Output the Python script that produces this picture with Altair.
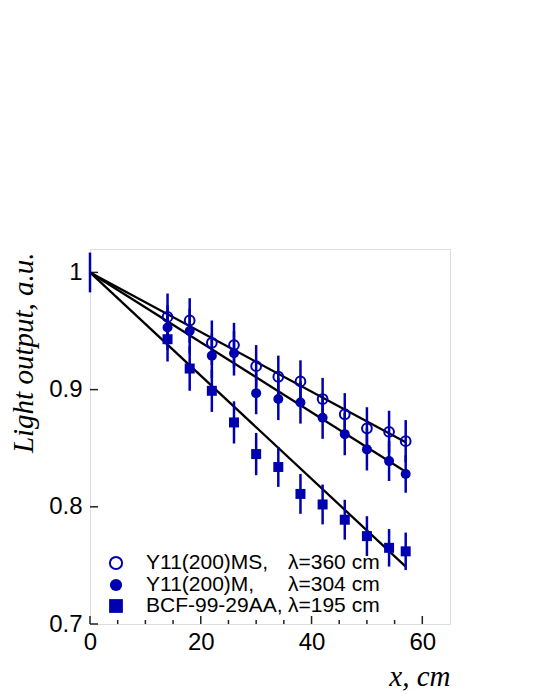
import altair as alt
import pandas as pd

# ---- data ----
x_pos = [14, 18, 22, 26, 30, 34, 38, 42, 46, 50, 54, 57]
ms_vals = [0.962, 0.959, 0.940, 0.938, 0.920, 0.911, 0.907, 0.892, 0.879, 0.867, 0.864, 0.856]
m_vals = [0.953, 0.950, 0.929, 0.931, 0.897, 0.892, 0.889, 0.876, 0.862, 0.849, 0.839, 0.828]
bcf_vals = [0.943, 0.918, 0.899, 0.872, 0.845, 0.834, 0.811, 0.802, 0.789, 0.775, 0.765, 0.762]
ms_err = [0.020, 0.019, 0.019, 0.019, 0.018, 0.018, 0.018, 0.018, 0.018, 0.018, 0.018, 0.018]
m_err = [0.019, 0.019, 0.019, 0.019, 0.018, 0.018, 0.018, 0.018, 0.018, 0.018, 0.017, 0.016]
bcf_err = [0.019, 0.019, 0.018, 0.018, 0.018, 0.017, 0.017, 0.017, 0.017, 0.017, 0.016, 0.016]
zero_x = [0]
zero_v = [1.0]
zero_err = [0.017]

series_names = ["Y11(200)MS,", "Y11(200)M,", "BCF-99-29AA,"]
lambda_labels = ["λ=360 cm", "λ=304 cm", "λ=195 cm"]
fit_x = [0, 57]
fit_ms = [1.0, 0.855]
fit_m = [1.0, 0.830]
fit_bcf = [1.0, 0.749]

x_ticks_major = [0, 20, 40, 60]
x_ticks_minor = [5, 10, 15, 25, 30, 35, 45, 50, 55]
y_ticks = [0.7, 0.8, 0.9, 1.0]

BLUE = "#0000b0"
W, H = 360, 375

rows = []
for name, vals, errs in zip(series_names, [ms_vals, m_vals, bcf_vals], [ms_err, m_err, bcf_err]):
    for xi, v, e in zip(x_pos, vals, errs):
        rows.append({"series": name, "x": xi, "v": v, "lo": v - e, "hi": v + e})
for xi, v, e in zip(zero_x, zero_v, zero_err):
    rows.append({"series": "zero", "x": xi, "v": v, "lo": v - e, "hi": v + e})
df = pd.DataFrame(rows)

fit_rows = []
for name, vals in zip(series_names, [fit_ms, fit_m, fit_bcf]):
    for xi, v in zip(fit_x, vals):
        fit_rows.append({"series": name, "x": xi, "v": v})
fit_df = pd.DataFrame(fit_rows)

xs = alt.Scale(domain=[0, 65], nice=False, zero=False)
ys = alt.Scale(domain=[0.7, 1.02], nice=False, zero=False)

xaxis = alt.Axis(values=x_ticks_major, format="d", ticks=False, domain=False, grid=False,
                 labelFontSize=24, labelFont="Liberation Sans", labelColor="black",
                 labelPadding=6, labelFlush=False, labelOverlap=False,
                 title="x,  cm", titleFont="Liberation Serif", titleFontStyle="italic",
                 titleFontSize=29, titleFontWeight="normal", titleColor="black",
                 titleAlign="right", titleBaseline="alphabetic", titleX=W, titleY=61)
yaxis = alt.Axis(values=y_ticks, labelExpr="datum.value == 1 ? '1' : format(datum.value, '.1f')",
                 ticks=False, domain=False, grid=False,
                 labelFontSize=24, labelFont="Liberation Sans", labelColor="black",
                 labelPadding=8, labelFlush=False, labelOverlap=False,
                 title="Light output, a.u.", titleFont="Liberation Serif", titleFontStyle="italic",
                 titleFontSize=29, titleFontWeight="normal", titleColor="black",
                 titleAngle=270, titleAlign="right", titleBaseline="alphabetic",
                 titleX=-58, titleY=3)

X = alt.X("x:Q", scale=xs, axis=xaxis)
Y = alt.Y("v:Q", scale=ys, axis=yaxis)

errbars = alt.Chart(df).mark_rule(color=BLUE, strokeWidth=2.5).encode(
    x=X, y=alt.Y("lo:Q", scale=ys, axis=yaxis), y2="hi:Q")

fits = alt.Chart(fit_df).mark_line(color="black", strokeWidth=2.3).encode(
    x=X, y=Y, detail="series:N")

pts_ms = alt.Chart(df).transform_filter(alt.datum.series == series_names[0]).mark_point(
    shape="circle", filled=False, color=BLUE, strokeWidth=2, size=95, opacity=1).encode(x=X, y=Y)
pts_m = alt.Chart(df).transform_filter(alt.datum.series == series_names[1]).mark_point(
    shape="circle", filled=True, color=BLUE, size=100, opacity=1).encode(x=X, y=Y)
pts_bcf = alt.Chart(df).transform_filter(alt.datum.series == series_names[2]).mark_point(
    shape="square", filled=True, color=BLUE, size=100, opacity=1).encode(x=X, y=Y)

ytick_df = pd.DataFrame({"v": y_ticks})
xmaj_df = pd.DataFrame({"x": x_ticks_major})
xmin_df = pd.DataFrame({"x": x_ticks_minor})

yt = alt.Chart(ytick_df).mark_rule(color="#222", strokeWidth=1.5).encode(
    y=Y, x=alt.value(0), x2=alt.value(8))
xtM = alt.Chart(xmaj_df).mark_rule(color="#222", strokeWidth=1.5).encode(
    x=X, y=alt.value(H), y2=alt.value(H - 8))
xtm = alt.Chart(xmin_df).mark_rule(color="#222", strokeWidth=1.5).encode(
    x=X, y=alt.value(H), y2=alt.value(H - 4))

# ---- legend ----
leg_df = pd.DataFrame({"name": series_names, "lam": lambda_labels})
leg_y = [314, 336, 357]
leg_marks = [
    dict(shape="circle", filled=False, strokeWidth=2, size=150),
    dict(shape="circle", filled=True, size=150),
    dict(shape="square", filled=True, size=190),
]
legend_layers = []
for name, yy, mk in zip(series_names, leg_y, leg_marks):
    base = alt.Chart(leg_df).transform_filter(alt.datum.name == name)
    legend_layers.append(base.mark_point(color=BLUE, opacity=1, **mk).encode(
        x=alt.value(26), y=alt.value(yy)))
    legend_layers.append(base.mark_text(align="left", baseline="middle", fontSize=21,
                                        font="Liberation Sans", color="black").encode(
        x=alt.value(56), y=alt.value(yy), text="name:N"))
    legend_layers.append(base.mark_text(align="left", baseline="middle", fontSize=21,
                                        font="Liberation Sans", color="black").encode(
        x=alt.value(198), y=alt.value(yy), text="lam:N"))

chart = alt.layer(
    xtm, xtM, yt, fits, errbars, pts_ms, pts_m, pts_bcf, *legend_layers
).properties(
    width=W, height=H,
    autosize=alt.AutoSizeParams(type="none"),
    padding={"left": 82, "top": 241, "right": 10, "bottom": 70},
).configure_view(stroke="#444", strokeWidth=1.5).configure(background="white")

chart.save("out.html", embed_options={"renderer": "svg", "actions": False})
